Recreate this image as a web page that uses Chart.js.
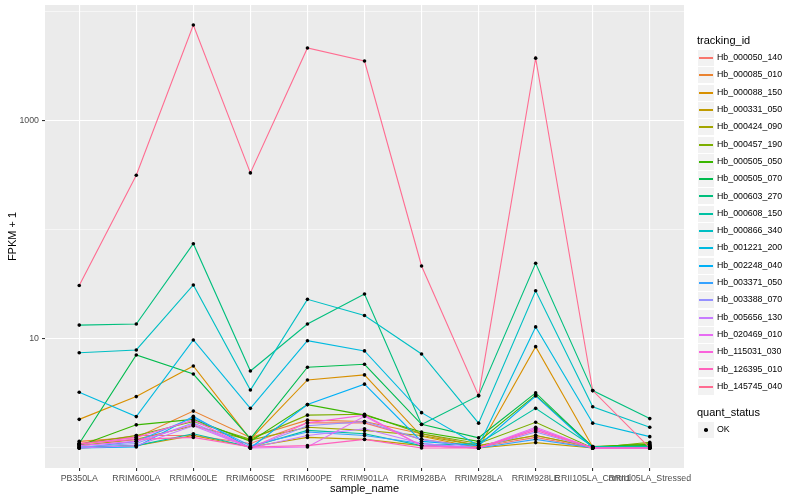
<!DOCTYPE html>
<html>
<head>
<meta charset="utf-8">
<script src="https://cdn.jsdelivr.net/npm/chart.js@4.4.1/dist/chart.umd.min.js"></script>
<style>
  body { margin: 0; background: #fff; font-family: "Liberation Sans", Arial, sans-serif; }
  #wrap { position: relative; width: 800px; height: 500px; }
  #legend { position: absolute; left: 697px; top: 0; width: 103px; }
  .ltitle { position: absolute; left: 0; font-size: 11px; color: #000; white-space: nowrap; line-height: 11px; }
  .lkey { position: absolute; left: 0; width: 16px; height: 16px; background: #f2f2f2; border: 1px solid #fff; }
  .lkey i { position: absolute; left: 1px; right: 1px; top: 7px; height: 1.5px; }
  .lkey b { position: absolute; left: 6px; top: 6px; width: 3.6px; height: 3.6px; border-radius: 50%; background: #000; }
  .ltext { position: absolute; left: 20px; font-size: 8.8px; color: #000; white-space: nowrap; line-height: 9px; }
</style>
</head>
<body>
<div id="wrap">
  <canvas id="fpkmChart" width="800" height="500"></canvas>
  <div id="legend"></div>
</div>
<script>
const sampleNames = ["PB350LA", "RRIM600LA", "RRIM600LE", "RRIM600SE", "RRIM600PE", "RRIM901LA",
  "RRIM928BA", "RRIM928LA", "RRIM928LE", "RRII105LA_Control", "RRII105LA_Stressed"];

const trackingIds = ["Hb_000050_140", "Hb_000085_010", "Hb_000088_150", "Hb_000331_050", "Hb_000424_090",
  "Hb_000457_190", "Hb_000505_050", "Hb_000505_070", "Hb_000603_270", "Hb_000608_150",
  "Hb_000866_340", "Hb_001221_200", "Hb_002248_040", "Hb_003371_050", "Hb_003388_070",
  "Hb_005656_130", "Hb_020469_010", "Hb_115031_030", "Hb_126395_010", "Hb_145745_040"];

// ggplot default hue palette, 20 levels
const trackingColors = ["#F8766D", "#EA8331", "#D89000", "#C09B00", "#A3A500", "#7CAE00", "#39B600",
  "#00BB4E", "#00BF7D", "#00C1A3", "#00BFC4", "#00BAE0", "#00B0F6", "#35A2FF", "#9590FF",
  "#C77CFF", "#E76BF3", "#FA62DB", "#FF62BC", "#FF6C91"];

// FPKM + 1 per sample, one array per tracking id
const hb_000050_140 = [1.1, 1.3, 1.3, 1.1, 1.7, 1.7, 1.2, 1.02, 1.25, 1.0, 1.0];
const hb_000085_010 = [1.15, 1.25, 2.18, 1.25, 1.8, 1.75, 1.35, 1.05, 1.3, 1.02, 1.05];
const hb_000088_150 = [1.83, 2.96, 5.65, 1.2, 4.21, 4.68, 1.28, 1.0, 8.5, 1.02, 1.05];
const hb_000331_050 = [1.0, 1.05, 1.3, 1.02, 1.25, 1.2, 1.05, 1.0, 1.12, 1.0, 1.02];
const hb_000424_090 = [1.05, 1.2, 1.6, 1.18, 1.55, 1.45, 1.3, 1.05, 1.3, 1.02, 1.1];
const hb_000457_190 = [1.08, 1.3, 1.75, 1.2, 2.0, 2.04, 1.35, 1.1, 1.72, 1.0, 1.13];
const hb_000505_050 = [1.05, 1.63, 1.83, 1.15, 2.5, 2.0, 1.4, 1.15, 3.05, 1.03, 1.08];
const hb_000505_070 = [1.1, 7.13, 4.77, 1.22, 5.5, 5.86, 1.65, 1.24, 3.2, 1.02, 1.05];
const hb_000603_270 = [13.4, 13.7, 74.8, 5.08, 13.7, 25.9, 1.64, 3.02, 49.5, 3.36, 1.86];
const hb_000608_150 = [1.02, 1.05, 1.35, 1.02, 1.45, 1.35, 1.05, 1.1, 2.31, 1.03, 1.03];
const hb_000866_340 = [7.48, 7.93, 31.3, 3.4, 23.1, 16.4, 7.28, 1.69, 27.7, 2.39, 1.55];
const hb_001221_200 = [3.24, 1.94, 9.8, 2.31, 9.64, 7.77, 2.11, 1.05, 12.9, 1.69, 1.27];
const hb_002248_040 = [1.0, 1.02, 1.95, 1.0, 2.5, 3.85, 1.15, 1.05, 3.0, 1.0, 1.0];
const hb_003371_050 = [1.0, 1.15, 1.9, 1.05, 1.4, 1.3, 1.1, 1.0, 1.2, 1.0, 1.0];
const hb_003388_070 = [1.02, 1.1, 1.7, 1.0, 1.6, 1.75, 1.2, 1.0, 1.4, 1.0, 1.0];
const hb_005656_130 = [1.0, 1.05, 1.6, 1.0, 1.3, 1.5, 1.1, 1.0, 1.5, 1.0, 1.0];
const hb_020469_010 = [1.05, 1.15, 1.65, 1.0, 1.02, 1.95, 1.05, 1.0, 1.55, 1.0, 1.0];
const hb_115031_030 = [1.08, 1.25, 1.8, 1.0, 1.7, 2.0, 1.05, 1.0, 1.5, 1.0, 1.0];
const hb_126395_010 = [1.1, 1.2, 1.25, 1.02, 1.05, 1.2, 1.0, 1.0, 1.45, 1.0, 1.0];
const hb_145745_040 = [30.9, 318, 7600, 334, 4680, 3550, 46.7, 3.02, 3770, 3.36, 1.0];

const seriesValues = [hb_000050_140, hb_000085_010, hb_000088_150, hb_000331_050, hb_000424_090,
  hb_000457_190, hb_000505_050, hb_000505_070, hb_000603_270, hb_000608_150,
  hb_000866_340, hb_001221_200, hb_002248_040, hb_003371_050, hb_003388_070,
  hb_005656_130, hb_020469_010, hb_115031_030, hb_126395_010, hb_145745_040];

const yGridValues = [1, 10, 100, 1000, 10000];
const yLabelled = [10, 1000];

Chart.defaults.font.family = '"Liberation Sans", Arial, sans-serif';

// grey panel behind the plot, like theme_grey
const panelBackground = {
  id: 'panelBackground',
  beforeDraw(chart) {
    const { ctx, chartArea: a } = chart;
    ctx.save();
    ctx.fillStyle = '#ebebeb';
    ctx.fillRect(a.left, a.top, a.right - a.left, a.bottom - a.top);
    ctx.restore();
  }
};

const lineSets = seriesValues.map((vals, i) => ({
  type: 'line',
  label: trackingIds[i],
  data: vals.map((v, j) => ({ x: j, y: v })),
  borderColor: trackingColors[i],
  borderWidth: 1.1,
  pointRadius: 0,
  tension: 0,
  fill: false,
  order: seriesValues.length - i   // later ids drawn on top
}));

const pointSet = {
  type: 'scatter',
  label: 'OK',
  data: seriesValues.flatMap(vals => vals.map((v, j) => ({ x: j, y: v }))),
  backgroundColor: '#000',
  borderWidth: 0,
  pointRadius: 1.8,
  order: -1
};

new Chart(document.getElementById('fpkmChart'), {
  data: { datasets: [...lineSets, pointSet] },
  plugins: [panelBackground],
  options: {
    responsive: false,
    animation: false,
    layout: { padding: { left: 0, top: 5, right: 116, bottom: 0 } },
    plugins: { legend: { display: false }, tooltip: { enabled: false } },
    scales: {
      x: {
        type: 'linear',
        min: -0.6,
        max: 10.6,
        bounds: 'data',
        afterBuildTicks: scale => { scale.ticks = sampleNames.map((n, i) => ({ value: i })); },
        afterFit: scale => { scale.height = 32; scale.paddingLeft = 0; scale.paddingRight = 0; },
        border: { display: false },
        grid: { color: '#fff', lineWidth: 1.1, tickColor: '#333', tickLength: 3 },
        ticks: {
          autoSkip: false, maxRotation: 0, minRotation: 0, padding: 2,
          color: '#4d4d4d', font: { size: 8.8 },
          callback: v => sampleNames[v]
        },
        title: { display: true, text: 'sample_name', color: '#000', font: { size: 11 }, padding: { top: 0, bottom: 4 } }
      },
      y: {
        type: 'logarithmic',
        min: 0.655,
        max: 11590,
        bounds: 'data',
        afterBuildTicks: scale => { scale.ticks = yGridValues.map(v => ({ value: v })); },
        afterFit: scale => { scale.width = 45; scale.paddingTop = 0; scale.paddingBottom = 0; },
        border: { display: false },
        grid: {
          color: '#fff',
          lineWidth: c => yLabelled.includes(c.tick.value) ? 1.1 : 0.55,
          tickColor: c => yLabelled.includes(c.tick.value) ? '#333' : 'rgba(0,0,0,0)',
          tickLength: 3
        },
        ticks: {
          autoSkip: false, padding: 3, color: '#4d4d4d', font: { size: 8.8 },
          callback: v => yLabelled.includes(v) ? String(v) : ''
        },
        title: { display: true, text: 'FPKM + 1', color: '#000', font: { size: 11 }, padding: { top: 6, bottom: 0 } }
      }
    }
  }
});

// ggplot-style legends, drawn as HTML
const legend = document.getElementById('legend');
const keyH = 17.3;
function addTitle(text, y) {
  const t = document.createElement('div');
  t.className = 'ltitle';
  t.style.top = (y - 5.5) + 'px';
  t.textContent = text;
  legend.appendChild(t);
}
function addEntry(text, top, color) {
  const k = document.createElement('div');
  k.className = 'lkey';
  k.style.top = Math.round(top) + 'px';
  k.innerHTML = color ? '<i style="background:' + color + '"></i>' : '<b></b>';
  legend.appendChild(k);
  const t = document.createElement('div');
  t.className = 'ltext';
  t.style.top = Math.round(top + keyH / 2 - 4.5) + 'px';
  t.textContent = text;
  legend.appendChild(t);
}
addTitle('tracking_id', 40.5);
trackingIds.forEach((id, i) => addEntry(id, 49 + i * keyH, trackingColors[i]));
addTitle('quant_status', 412.5);
addEntry('OK', 420.5, null);
</script>
</body>
</html>
